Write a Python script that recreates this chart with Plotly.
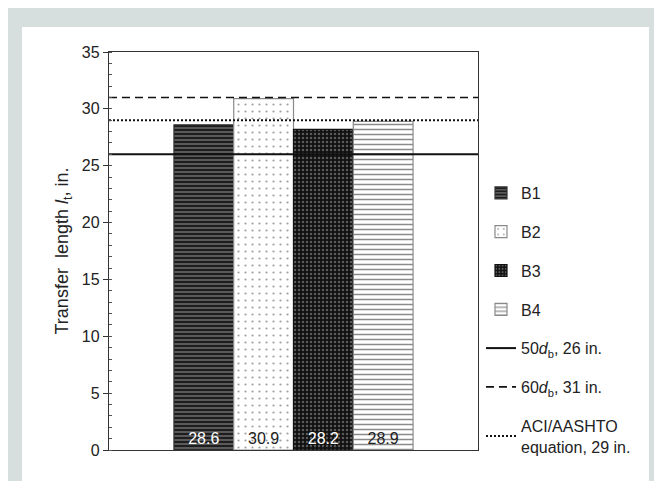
import plotly.graph_objects as go

series_names = ["B1", "B2", "B3", "B4"]
series_values = [28.6, 30.9, 28.2, 28.9]
value_labels = ["28.6", "30.9", "28.2", "28.9"]
ref_names = ["50<i>d</i><sub>b</sub>, 26 in.", "60<i>d</i><sub>b</sub>, 31 in.",
             "ACI/AASHTO<br>equation, 29 in."]
ref_values = [26, 31, 29]
y_ticks = [0, 5, 10, 15, 20, 25, 30, 35]

# styles
bar_styles = [
    dict(bg="#5a5a5a", fg="#1e1e1e", shape="-", size=4, sol=0.5, line="#333333", txt="white"),
    dict(bg="#ffffff", fg="#a0a0a0", shape=".", size=7, sol=0.08, line="#8a8a8a", txt="#222222"),
    dict(bg="#111111", fg="#5a5a5a", shape=".", size=4, sol=0.3, line="#111111", txt="white"),
    dict(bg="#ffffff", fg="#8a8a8a", shape="-", size=5, sol=0.3, line="#8a8a8a", txt="#222222"),
]
line_styles = [
    dict(dash="solid", width=2),
    dict(dash="8px,5px", width=1.6),
    dict(dash="2px,2px", width=2),
]

fig = go.Figure()
for i, (name, val, lab) in enumerate(zip(series_names, series_values, value_labels)):
    s = bar_styles[i]
    fig.add_trace(go.Bar(
        x=[""], y=[val], name=name, text=[lab],
        textposition="inside", insidetextanchor="start", textangle=0,
        textfont=dict(color=s["txt"], size=16, family="Liberation Sans, Arial"),
        marker=dict(color=s["bg"], line=dict(color=s["line"], width=1.2),
                    pattern=dict(shape=s["shape"], bgcolor=s["bg"], fgcolor=s["fg"],
                                 size=s["size"], solidity=s["sol"], fillmode="replace")),
        legendgroup=name,
    ))

for i, (name, val) in enumerate(zip(ref_names, ref_values)):
    s = line_styles[i]
    fig.add_trace(go.Scatter(
        x=[0, 1], y=[val, val], mode="lines", name=name, xaxis="x2",
        line=dict(color="#111111", dash=s["dash"], width=s["width"]),
        legendgroup="ref%d" % i,
    ))

# figure is placed 8px from the page's top-left corner by the browser
OFF = 8
W, H = 662 - OFF, 481 - OFF
L, T = 109 - OFF, 52 - OFF
R, B = W - (478 - OFF), H - (450 - OFF)
pw, ph = W - L - R, H - T - B

def px_x(p):
    return (p - OFF - L) / pw

def px_y(p):
    return (H - B - (p - OFF)) / ph

fig.update_layout(
    width=W, height=H,
    margin=dict(l=L, r=R, t=T, b=B, pad=0),
    paper_bgcolor="#f2f4f4",
    plot_bgcolor="white",
    barmode="group", bargap=0.352, bargroupgap=0,
    font=dict(family="Liberation Sans, Arial", size=16, color="#222222"),
    showlegend=True,
    legend=dict(x=px_x(481), y=px_y(176), xanchor="left", yanchor="top",
                bgcolor="rgba(0,0,0,0)", tracegroupgap=15, traceorder="grouped",
                itemwidth=30, font=dict(size=16)),
    xaxis=dict(showticklabels=False, ticks="", showline=True, mirror=True,
               linecolor="#333333", linewidth=1.3, showgrid=False, zeroline=False),
    xaxis2=dict(overlaying="x", range=[0, 1], visible=False, fixedrange=True),
    yaxis=dict(range=[0, 35], tickvals=y_ticks, ticks="outside", ticklen=5,
               tickcolor="#333333", showline=True, mirror=True, linecolor="#333333",
               linewidth=1.3, showgrid=False, zeroline=False,
               tickfont=dict(size=16),
               minor=dict(dtick=1, ticks="inside", ticklen=3, tickcolor="#555555"),
               title=dict(text="Transfer  length <i>l</i><sub>t</sub>, in.",
                          font=dict(size=18), standoff=8)),
    shapes=[
        dict(type="rect", xref="paper", yref="paper", layer="below",
             x0=px_x(3), x1=px_x(662), y0=px_y(481), y1=px_y(6),
             fillcolor="#d7dfde", line=dict(width=0)),
        dict(type="rect", xref="paper", yref="paper", layer="below",
             x0=px_x(22), x1=px_x(649), y0=px_y(481), y1=px_y(27),
             fillcolor="white", line=dict(width=0)),
    ],
)

fig.write_html("out.html")
